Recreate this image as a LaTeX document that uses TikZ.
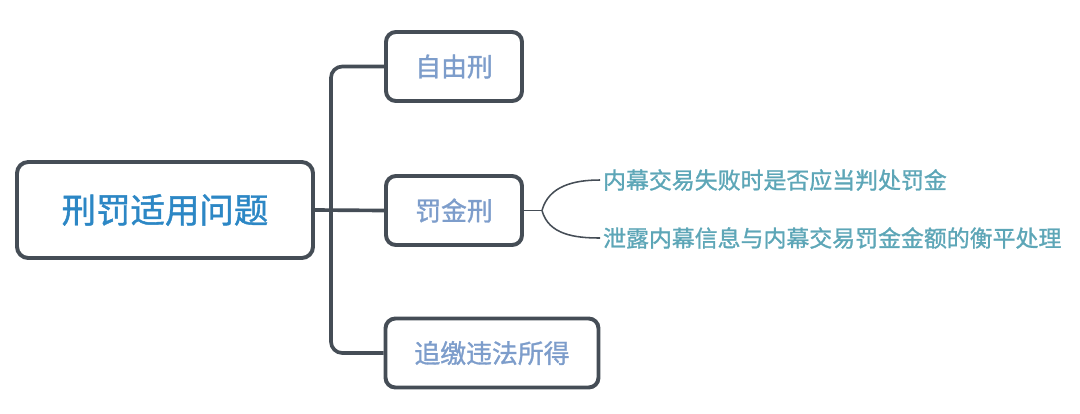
\documentclass[tikz,border=0pt]{standalone}
\usepackage{fontspec}
\setmainfont{Noto Sans CJK SC}
\newfontfamily\cjkmed{Noto Sans CJK SC}[FakeBold=1.2]
\usepackage{xcolor}
\usepackage{tikz}
\usetikzlibrary{positioning,calc}
\definecolor{edgegray}{HTML}{454D56}
\definecolor{rootblue}{HTML}{2C87C5}
\definecolor{topicblue}{HTML}{7D9DCB}
\definecolor{leafteal}{HTML}{5DA6B7}
\tikzset{
  rootbox/.style={draw=edgegray,line width=2.8pt,rounded corners=8pt,fill=white,align=center,
    minimum width=7.4cm,minimum height=2.4cm,text=rootblue,font=\cjkmed\fontsize{24.5pt}{28pt}\selectfont},
  topic/.style={draw=edgegray,line width=2.8pt,rounded corners=7pt,fill=white,align=center,
    minimum height=1.725cm,text=topicblue,font=\cjkmed\fontsize{18.4pt}{22pt}\selectfont},
  leaf/.style={anchor=west,inner sep=2pt,text=leafteal,font=\cjkmed\fontsize{16.3pt}{20pt}\selectfont},
  trunk/.style={draw=edgegray,line width=2.6pt,rounded corners=8pt},
  twig/.style={draw=edgegray,line width=1.1pt},
}

\begin{document}
\begin{tikzpicture}
\useasboundingbox (0,0) rectangle (27,-10.325);
\node[rootbox] (root) at (4.125,-5.25) {刑罚适用问题};
\node[topic,minimum width=3.4cm] (free) at (11.35,-1.6625) {自由刑};
\node[topic,minimum width=3.4cm] (fine) at (11.35,-5.2625) {罚金刑};
\node[topic,minimum width=5.325cm] (gain) at (12.3,-8.825) {追缴违法所得};
\coordinate (j) at (8.275,-5.25);
\draw[trunk] (root.east) -- (fine.west);
\draw[trunk] (free.west) -| (j) |- (gain.west);
% leaves under the fine
\coordinate (fork) at (13.55,-5.2625);
\node[leaf] (fail) at (15.0,-4.5) {内幕交易失败时是否应当判处罚金};
\node[leaf] (leak) at (15.0,-5.95) {泄露内幕信息与内幕交易罚金金额的衡平处理};
\draw[twig] (fine.east) -- (fork);
\draw[twig] (fork) to[out=75,in=180] (fail.west);
\draw[twig] (fork) to[out=-75,in=180] (leak.west);
\end{tikzpicture}
\end{document}
